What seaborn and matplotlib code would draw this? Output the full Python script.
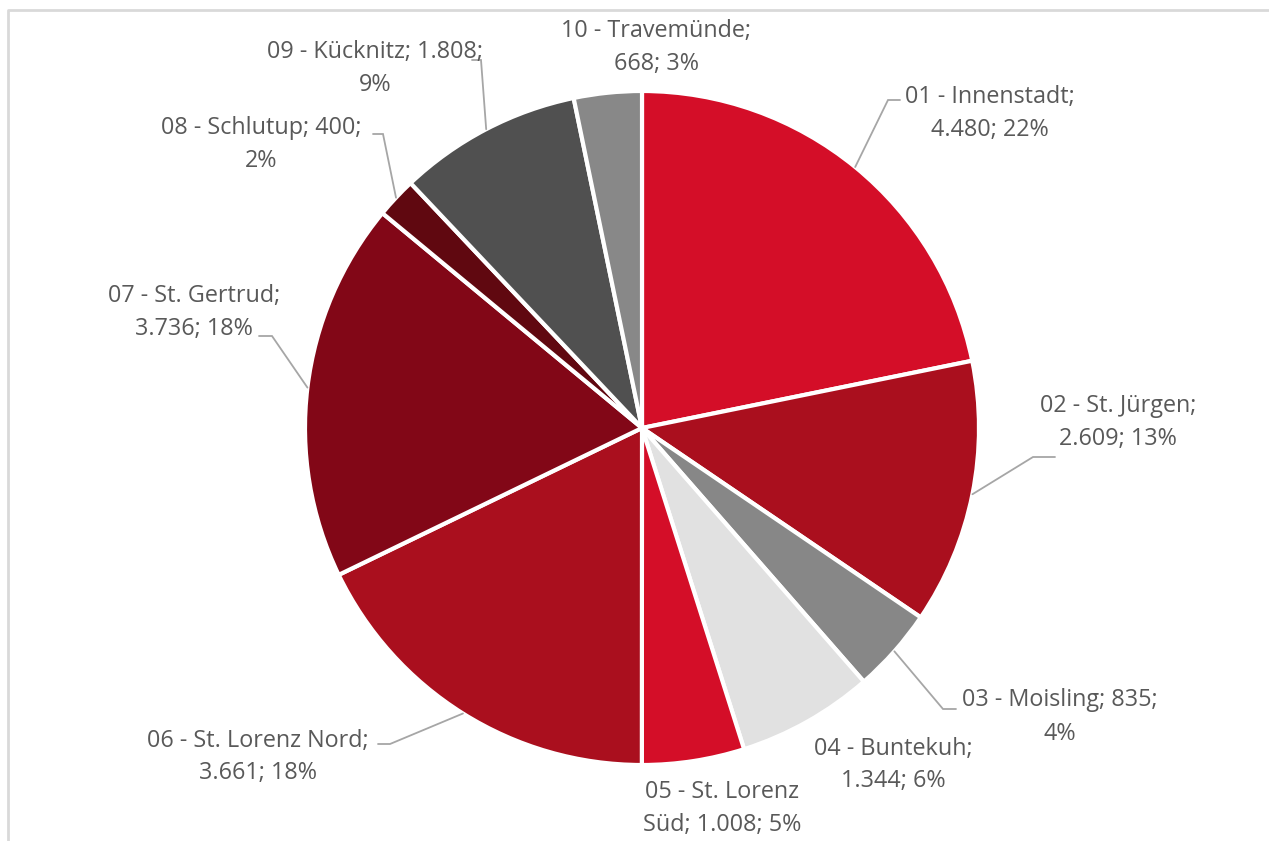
import matplotlib
matplotlib.use("Agg")
import matplotlib.pyplot as plt
import seaborn as sns
import numpy as np

sns.set_theme(style="white")
plt.rcParams['font.family'] = ['Open Sans', 'DejaVu Sans']

# data
districts = ['01 - Innenstadt', '02 - St. Jürgen', '03 - Moisling', '04 - Buntekuh',
             '05 - St. Lorenz Süd', '06 - St. Lorenz Nord', '07 - St. Gertrud',
             '08 - Schlutup', '09 - Kücknitz', '10 - Travemünde']
values = [4480, 2609, 835, 1344, 1008, 3661, 3736, 400, 1808, 668]
percents = [22, 13, 4, 6, 5, 18, 18, 2, 9, 3]
colors = ['#D40E28', '#AA0F1E', '#878787', '#E1E1E1', '#D40E28',
          '#AA0F1E', '#820717', '#600810', '#505050', '#888888']

# label text wrapping as in the original
label_texts = ['01 - Innenstadt;\n{v}; {p}', '02 - St. Jürgen;\n{v}; {p}',
               '03 - Moisling; {v};\n{p}', '04 - Buntekuh;\n{v}; {p}',
               '05 - St. Lorenz\nSüd; {v}; {p}', '06 - St. Lorenz Nord;\n{v}; {p}',
               '07 - St. Gertrud;\n{v}; {p}', '08 - Schlutup; {v};\n{p}',
               '09 - Kücknitz; {v};\n{p}', '10 - Travemünde;\n{v}; {p}']

# label centres (pixels, image coords) and leader knee / end points
label_pos = [(990, 113), (1118, 422), (1060, 717), (893, 765), (722, 808),
             (258, 757), (194, 312), (261, 144), (375, 68), (656, 47)]
leaders = [((888, 100), (900, 100)), ((1033, 457), (1055, 457)),
           ((943, 709), (956, 709)), None, None,
           ((390, 744), (378, 744)), ((272, 336), (259, 336)),
           ((383, 134), (373, 134)), ((481, 60), (472, 60)), None]

W, H = 1269, 841
fig = plt.figure(figsize=(W / 100, H / 100), dpi=100)
ax = fig.add_axes([0, 0, 1, 1])

cx, cy, r = 642, H - 428, 337
wedges, _ = ax.pie(values, colors=colors, startangle=90, counterclock=False,
                   center=(cx, cy), radius=r, frame=True,
                   wedgeprops=dict(edgecolor='white', linewidth=3))
ax.set_xlim(0, W)
ax.set_ylim(0, H)
ax.set_aspect('equal')
ax.axis('off')

txt_color = '#595959'
line_color = '#A6A6A6'
for i, w in enumerate(wedges):
    vs = f'{values[i]:,}'.replace(',', '.')
    p = f'{percents[i]}%'
    tx, ty = label_pos[i]
    ax.text(tx, H - ty, label_texts[i].format(v=vs, p=p), ha='center', va='center',
            fontsize=16.8, color=txt_color, linespacing=1.5)
    if leaders[i] is not None:
        ang = np.deg2rad((w.theta1 + w.theta2) / 2)
        sx, sy = cx + r * np.cos(ang), cy + r * np.sin(ang)
        (kx, ky), (ex, ey) = leaders[i]
        ax.plot([sx, kx, ex], [sy, H - ky, H - ey], color=line_color, lw=1.3,
                solid_joinstyle='miter')

# chart frame
ax.plot([7.5, 7.5, W], [0, H - 9.5, H - 9.5], color='#D9D9D9', lw=2, clip_on=False)

fig.savefig('out.png', dpi=100, facecolor='white')
